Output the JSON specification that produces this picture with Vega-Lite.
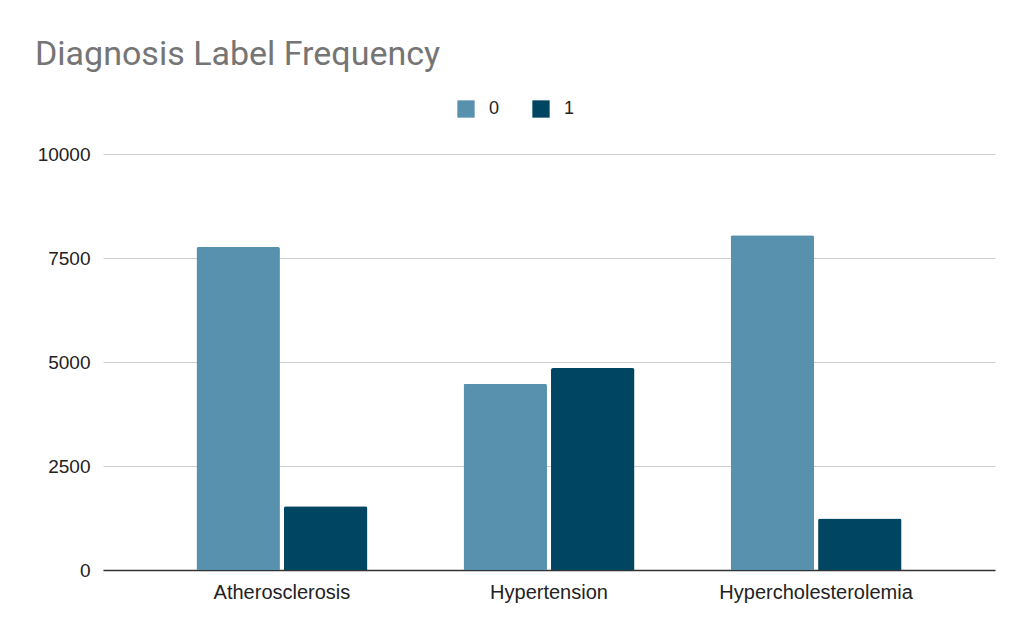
{
  "$schema": "https://vega.github.io/schema/vega-lite/v6.json",
  "autosize": {"type": "none"},
  "padding": {"left": 103, "top": 154, "right": 32, "bottom": 67},
  "width": 892,
  "height": 416,
  "background": "white",
  "title": {
    "text": "Diagnosis Label Frequency",
    "anchor": "start",
    "frame": "group",
    "dx": -68,
    "offset": 1,
    "baseline": "alphabetic",
    "font": "Roboto",
    "fontSize": 34,
    "fontWeight": "normal",
    "color": "#757575"
  },
  "data": {
    "values": [
      {"diagnosis": "Atherosclerosis", "label": "0", "count": 7765},
      {"diagnosis": "Atherosclerosis", "label": "1", "count": 1530},
      {"diagnosis": "Hypertension", "label": "0", "count": 4480},
      {"diagnosis": "Hypertension", "label": "1", "count": 4855},
      {"diagnosis": "Hypercholesterolemia", "label": "0", "count": 8047},
      {"diagnosis": "Hypercholesterolemia", "label": "1", "count": 1235}
    ]
  },
  "mark": {"type": "bar", "cornerRadiusTopLeft": 2, "cornerRadiusTopRight": 2},
  "encoding": {
    "x": {
      "field": "diagnosis",
      "type": "nominal",
      "sort": null,
      "scale": {"paddingInner": 0.36, "paddingOuter": 0.35},
      "axis": {
        "title": null,
        "labelAngle": 0,
        "ticks": false,
        "domain": true,
        "domainColor": "#333333",
        "domainWidth": 1.5,
        "labelFont": "Liberation Sans",
        "labelFontSize": 20,
        "labelLimit": 0,
        "labelColor": "#222222",
        "labelPadding": 12
      }
    },
    "xOffset": {
      "field": "label",
      "type": "nominal",
      "scale": {"paddingInner": 0.046, "paddingOuter": 0}
    },
    "y": {
      "field": "count",
      "type": "quantitative",
      "scale": {"domain": [0, 10000]},
      "axis": {
        "title": null,
        "values": [0, 2500, 5000, 7500, 10000],
        "format": "d",
        "ticks": false,
        "domain": false,
        "gridColor": "#cccccc",
        "gridWidth": 1,
        "labelFont": "Liberation Sans",
        "labelFontSize": 19,
        "labelColor": "#222222",
        "labelPadding": 13
      }
    },
    "color": {
      "field": "label",
      "type": "nominal",
      "scale": {"domain": ["0", "1"], "range": ["#5891ad", "#004561"]},
      "legend": {
        "title": null,
        "orient": "none",
        "direction": "horizontal",
        "legendX": 354,
        "legendY": -54,
        "symbolType": "square",
        "symbolSize": 300,
        "symbolStrokeWidth": 0,
        "symbolOpacity": 1,
        "labelFont": "Liberation Sans",
        "labelFontSize": 18,
        "labelColor": "#222222",
        "labelOffset": 14,
        "columnPadding": 32
      }
    }
  },
  "config": {
    "view": {"stroke": null}
  }
}
